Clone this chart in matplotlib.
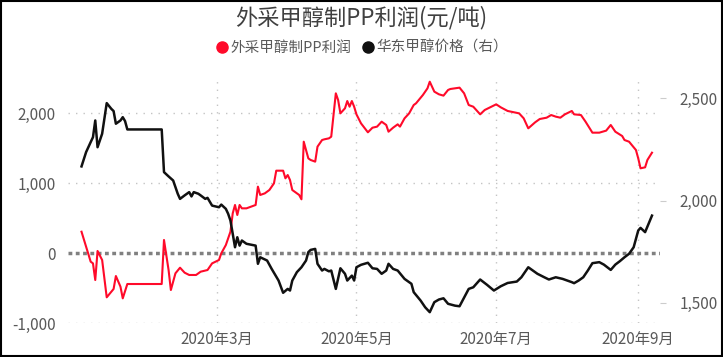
# coding: utf-8
# 外采甲醇制PP利润 与 华东甲醇价格（右轴）
import pandas as pd
import matplotlib
matplotlib.use('Agg')
import matplotlib.pyplot as plt
import matplotlib.dates as mdates
from matplotlib.lines import Line2D
from matplotlib.patches import Rectangle
from matplotlib.ticker import FuncFormatter, FixedLocator

plt.rcParams['font.family'] = ['Noto Sans CJK SC', 'DejaVu Sans']

title = '外采甲醇制PP利润(元/吨)'
profit_name = '外采甲醇制PP利润'
price_name = '华东甲醇价格（右）'

# 利润（左轴）
profit_dates = [
    '2020-01-02', '2020-01-06', '2020-01-07', '2020-01-08', '2020-01-09', '2020-01-11',
    '2020-01-13', '2020-01-15', '2020-01-16', '2020-01-17', '2020-01-19', '2020-01-20',
    '2020-01-22', '2020-02-06', '2020-02-07', '2020-02-09', '2020-02-10', '2020-02-12',
    '2020-02-14', '2020-02-16', '2020-02-18', '2020-02-21', '2020-02-23', '2020-02-26',
    '2020-02-28', '2020-03-02', '2020-03-03', '2020-03-05', '2020-03-07', '2020-03-08',
    '2020-03-09', '2020-03-10', '2020-03-11', '2020-03-12', '2020-03-14', '2020-03-16',
    '2020-03-18', '2020-03-19', '2020-03-20', '2020-03-22', '2020-03-24', '2020-03-26',
    '2020-03-27', '2020-03-30', '2020-03-31', '2020-04-01', '2020-04-02', '2020-04-03',
    '2020-04-06', '2020-04-07', '2020-04-08', '2020-04-10', '2020-04-11', '2020-04-13',
    '2020-04-14', '2020-04-16', '2020-04-17', '2020-04-19', '2020-04-20', '2020-04-22',
    '2020-04-23', '2020-04-24', '2020-04-26', '2020-04-27', '2020-04-28', '2020-04-29',
    '2020-04-30', '2020-05-01', '2020-05-03', '2020-05-06', '2020-05-08', '2020-05-10',
    '2020-05-12', '2020-05-14', '2020-05-15', '2020-05-17', '2020-05-19', '2020-05-20',
    '2020-05-22', '2020-05-24', '2020-05-26', '2020-05-27', '2020-05-30', '2020-06-01',
    '2020-06-02', '2020-06-04', '2020-06-06', '2020-06-08', '2020-06-10', '2020-06-11',
    '2020-06-13', '2020-06-15', '2020-06-17', '2020-06-19', '2020-06-21', '2020-06-24',
    '2020-06-26', '2020-07-01', '2020-07-03', '2020-07-06', '2020-07-11', '2020-07-13',
    '2020-07-15', '2020-07-18', '2020-07-20', '2020-07-23', '2020-07-25', '2020-07-27',
    '2020-07-29', '2020-07-31', '2020-08-03', '2020-08-04', '2020-08-07', '2020-08-09',
    '2020-08-12', '2020-08-15', '2020-08-18', '2020-08-20', '2020-08-22', '2020-08-25',
    '2020-08-26', '2020-08-28', '2020-08-31', '2020-09-01', '2020-09-02', '2020-09-04',
    '2020-09-05', '2020-09-07',
]
profit = [
    304, -124, -148, -386, 29, -100,
    -633, -552, -514, -329, -481, -648,
    -443, -443, 186, -243, -529, -290,
    -210, -281, -314, -314, -267, -243,
    -148, -100, -5, 114, 304, 567,
    686, 543, 686, 638, 638, 662,
    686, 948, 829, 852, 900, 995,
    1176, 1176, 1067, 1114, 1043, 900,
    829, 767, 1590, 1352, 1329, 1305,
    1519, 1614, 1624, 1638, 1662, 2281,
    2186, 1995, 2067, 2171, 2090, 2171,
    2090, 1981, 1852, 1724, 1790, 1805,
    1876, 1829, 1733, 1790, 1838, 1805,
    1924, 1995, 2114, 2138, 2257, 2352,
    2447, 2305, 2267, 2248, 2329, 2343,
    2352, 2362, 2281, 2114, 2090, 1981,
    2043, 2124, 2081, 2029, 1995, 1924,
    1781, 1867, 1914, 1933, 1971, 1948,
    1933, 1981, 2029, 1981, 1971, 1876,
    1719, 1719, 1748, 1829, 1733, 1671,
    1614, 1590, 1471, 1352, 1210, 1224,
    1329, 1433,
]

# 华东甲醇价格（右轴）
price_dates = [
    '2020-01-02', '2020-01-04', '2020-01-06', '2020-01-07', '2020-01-08', '2020-01-09',
    '2020-01-11', '2020-01-13', '2020-01-15', '2020-01-16', '2020-01-17', '2020-01-19',
    '2020-01-20', '2020-01-21', '2020-01-22', '2020-02-06', '2020-02-07', '2020-02-09',
    '2020-02-11', '2020-02-13', '2020-02-14', '2020-02-16', '2020-02-18', '2020-02-19',
    '2020-02-20', '2020-02-22', '2020-02-23', '2020-02-25', '2020-02-26', '2020-02-28',
    '2020-03-02', '2020-03-03', '2020-03-05', '2020-03-06', '2020-03-07', '2020-03-08',
    '2020-03-09', '2020-03-10', '2020-03-11', '2020-03-12', '2020-03-14', '2020-03-18',
    '2020-03-19', '2020-03-20', '2020-03-23', '2020-03-25', '2020-03-28', '2020-03-30',
    '2020-04-01', '2020-04-02', '2020-04-03', '2020-04-05', '2020-04-07', '2020-04-09',
    '2020-04-10', '2020-04-11', '2020-04-13', '2020-04-14', '2020-04-16', '2020-04-17',
    '2020-04-19', '2020-04-20', '2020-04-22', '2020-04-24', '2020-04-26', '2020-04-27',
    '2020-04-29', '2020-04-30', '2020-05-01', '2020-05-03', '2020-05-06', '2020-05-08',
    '2020-05-10', '2020-05-12', '2020-05-14', '2020-05-15', '2020-05-17', '2020-05-19',
    '2020-05-22', '2020-05-25', '2020-05-26', '2020-05-29', '2020-05-31', '2020-06-02',
    '2020-06-04', '2020-06-06', '2020-06-08', '2020-06-10', '2020-06-13', '2020-06-15',
    '2020-06-19', '2020-06-21', '2020-06-24', '2020-06-27', '2020-06-30', '2020-07-03',
    '2020-07-06', '2020-07-10', '2020-07-12', '2020-07-15', '2020-07-19', '2020-07-22',
    '2020-07-24', '2020-07-27', '2020-07-30', '2020-08-03', '2020-08-04', '2020-08-06',
    '2020-08-08', '2020-08-10', '2020-08-12', '2020-08-15', '2020-08-17', '2020-08-20',
    '2020-08-22', '2020-08-24', '2020-08-26', '2020-08-28', '2020-08-30', '2020-09-01',
    '2020-09-02', '2020-09-04', '2020-09-07',
]
price = [
    2167, 2237, 2286, 2310, 2392, 2261,
    2327, 2477, 2449, 2438, 2376, 2392,
    2408, 2389, 2348, 2348, 2139, 2118,
    2098, 2033, 2008, 2025, 2041, 2020,
    2041, 2033, 2025, 2008, 2013, 1975,
    1967, 1980, 1959, 1935, 1902, 1837,
    1771, 1820, 1779, 1804, 1788, 1779,
    1690, 1722, 1706, 1665, 1608, 1548,
    1567, 1559, 1608, 1649, 1673, 1706,
    1747, 1758, 1763, 1690, 1657, 1665,
    1653, 1657, 1567, 1668, 1641, 1608,
    1632, 1608, 1673, 1685, 1695, 1668,
    1665, 1641, 1657, 1690, 1665, 1657,
    1616, 1592, 1551, 1510, 1477, 1453,
    1502, 1515, 1521, 1494, 1485, 1482,
    1567, 1575, 1613, 1587, 1559, 1580,
    1596, 1603, 1624, 1673, 1641, 1624,
    1613, 1624, 1616, 1600, 1595, 1608,
    1624, 1657, 1693, 1698, 1686, 1660,
    1686, 1703, 1722, 1739, 1771, 1853,
    1866, 1845, 1926,
]

month_ticks = ['2020-03-01', '2020-05-01', '2020-07-01', '2020-09-01']
month_labels = ['2020年3月', '2020年5月', '2020年7月', '2020年9月']
left_ticks = [-1000, 0, 1000, 2000]
right_ticks = [1500, 2000, 2500]

red = '#FF0A2A'
black = '#111111'
label_color = '#595959'
grid_color = '#c4c4c4'

fig = plt.figure(figsize=(7.23, 3.57), dpi=100)
ax = fig.add_axes([68 / 723, 1 - 323 / 357, 592 / 723, 245 / 357])
ax2 = ax.twinx()

pd_profit = pd.to_datetime(profit_dates)
pd_price = pd.to_datetime(price_dates)
ax.plot(pd_profit, profit, color=red, lw=1.5, zorder=3)
ax2.plot(pd_price, price, color=black, lw=1.8, zorder=3)

t0 = mdates.date2num(pd.Timestamp('2020-03-01'))
ax.set_xlim(t0 - 64.9, t0 + 193.5)
ax.set_ylim(-1000, 2500)
ax2.set_ylim(1400, 2600)

# 网格
xt = [mdates.date2num(pd.Timestamp(d)) for d in month_ticks]
ax.xaxis.set_major_locator(FixedLocator(xt))
ax.set_xticklabels(month_labels)
ax.yaxis.set_major_locator(FixedLocator(left_ticks))
ax2.yaxis.set_major_locator(FixedLocator(right_ticks))
fmt = FuncFormatter(lambda v, p: f'{v:,.0f}')
ax.yaxis.set_major_formatter(fmt)
ax2.yaxis.set_major_formatter(fmt)

for v in xt:
    ax.axvline(v, color=grid_color, lw=1.0, ls=(0, (1, 4.4)), zorder=1)
for v in [-1000, 1000, 2000]:
    ax.axhline(v, color=grid_color, lw=1.0, ls=(0, (1, 4.4)), zorder=1)
ax.axhline(0, color='#808080', lw=2.5, ls=(0, (1.1, 1.0)), zorder=2)

for a in (ax, ax2):
    for s in a.spines.values():
        s.set_visible(False)
ax.tick_params(axis='x', length=0, pad=6, labelsize=11, labelcolor=label_color)
ax.tick_params(axis='y', length=0, pad=9, labelsize=11, labelcolor=label_color)
ax2.tick_params(axis='y', length=4, width=0.8, color='#cccccc', pad=10,
                labelsize=11, labelcolor=label_color)

fig.text(0.5, 1 - 18 / 357, title, ha='center', va='center', fontsize=16, color='#404040')

handles = [
    Line2D([], [], ls='none', marker='o', ms=8, color=red),
    Line2D([], [], ls='none', marker='o', ms=8, color=black),
]
fig.legend(handles, [profit_name, price_name], loc='center', bbox_to_anchor=(0.5, 1 - 48 / 357),
           ncol=2, frameon=False, fontsize=10.5, labelcolor=label_color,
           handletextpad=0.1, columnspacing=0.6, handlelength=1.0, borderaxespad=0)

fig.patches.append(Rectangle((0.002, 0.003), 0.996, 0.994, transform=fig.transFigure,
                             fill=False, edgecolor='black', lw=1.5))

fig.savefig('out.png', dpi=100)
